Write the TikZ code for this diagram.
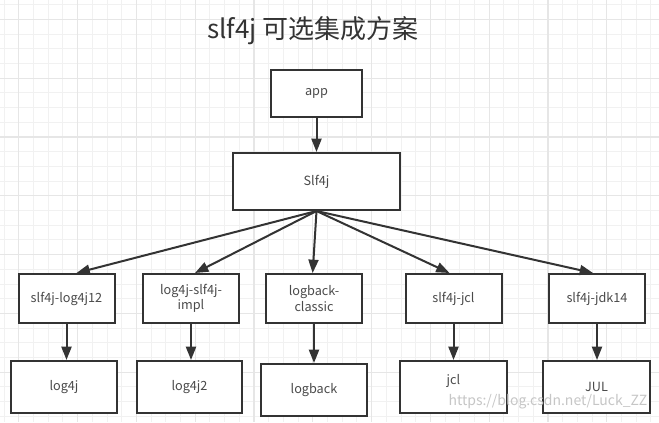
\documentclass[tikz,border=0pt]{standalone}
\usepackage{fontspec}
\setmainfont{Noto Sans CJK SC}
\usetikzlibrary{arrows.meta}
\definecolor{linegray}{HTML}{333333}
\definecolor{textgray}{HTML}{4A4A4A}
\definecolor{gridminor}{HTML}{F1F1F1}
\definecolor{gridmajor}{HTML}{E6E6E6}
\begin{document}
\begin{tikzpicture}[x=0.75pt, y=-0.75pt,
      box/.style={draw=linegray, line width=1.5pt, fill=white, align=center,
        minimum width=96pt*0.75, minimum height=49pt*0.75,
        inner sep=1pt, text=textgray, font=\fontsize{9.5}{11.5}\selectfont},
      arrow/.style={-{Triangle[length=10pt, width=7.5pt]}, draw=linegray, line width=1.5pt},
    ]
    \useasboundingbox (0,0) rectangle (659,422);
    \fill[white] (0,0) rectangle (659,422);
    % grid in the background
    \foreach \k in {0,...,44}
      \draw[gridminor, line width=0.75pt] ({4.1+14.7*\k},0) -- ({4.1+14.7*\k},422);
    \foreach \k in {0,...,28}
      \draw[gridminor, line width=0.75pt] (0,{4.7+14.7*\k}) -- (659,{4.7+14.7*\k});
    \foreach \k in {1,5,...,41}
      \draw[gridmajor, line width=0.9pt] ({4.1+14.7*\k},0) -- ({4.1+14.7*\k},422);
    \foreach \k in {1,5,...,25}
      \draw[gridmajor, line width=0.9pt] (0,{4.7+14.7*\k}) -- (659,{4.7+14.7*\k});

    \node[text=linegray, font=\fontsize{19.5}{22}\selectfont] (title) at (313,31) {slf4j 可选集成方案};

    \node[box, minimum width=91*0.75pt, minimum height=47*0.75pt] (app) at (316.5,93.5) {app};
    \node[box, minimum width=167*0.75pt, minimum height=57*0.75pt] (slf) at (316.5,181.5) {Slf4j};

    % bindings
    \node[box] (bLog) at (66.5,298.5) {slf4j-log4j12};
    \node[box] (bLogTwo) at (191,298.5) {log4j-slf4j-\\impl};
    \node[box] (bLogback) at (314,298.5) {logback-\\classic};
    \node[box] (bJcl) at (453.5,298.5) {slf4j-jcl};
    \node[box] (bJdk) at (597,298.5) {slf4j-jdk14};

    % implementations
    \node[box, minimum width=106*0.75pt, minimum height=52*0.75pt] (log) at (64,387) {log4j};
    \node[box, minimum width=105*0.75pt, minimum height=52*0.75pt] (logTwo) at (189.5,387) {log4j2};
    \node[box, minimum width=106*0.75pt, minimum height=52*0.75pt] (logback) at (314,390) {logback};
    \node[box, minimum width=107*0.75pt, minimum height=52*0.75pt, text depth=12pt] (jcl) at (453.5,387) {jcl};
    \node[box, minimum width=107*0.75pt, minimum height=52*0.75pt] (jul) at (596.5,387) {JUL};

    \node[text=gray!45, font=\fontsize{10.5}{12}\selectfont, anchor=east] (mark) at (652,402) {https://blog.csdn.net/Luck\_ZZ};

    \draw[arrow] (app) -- (slf);
    \draw[arrow] (slf.south) -- ([xshift=7.5pt]bLog.north);
    \draw[arrow] (slf.south) -- ([xshift=3pt]bLogTwo.north);
    \draw[arrow] (slf.south) -- ([xshift=-1pt]bLogback.north);
    \draw[arrow] (slf.south) -- ([xshift=-3pt]bJcl.north);
    \draw[arrow] (slf.south) -- ([xshift=-3pt]bJdk.north);

    \draw[arrow] (bLog) -- (bLog |- log.north);
    \draw[arrow] (bLogTwo) -- (bLogTwo |- logTwo.north);
    \draw[arrow] (bLogback) -- (bLogback |- logback.north);
    \draw[arrow] (bJcl) -- (bJcl |- jcl.north);
    \draw[arrow] (bJdk) -- (bJdk |- jul.north);
  \end{tikzpicture}
\end{document}
